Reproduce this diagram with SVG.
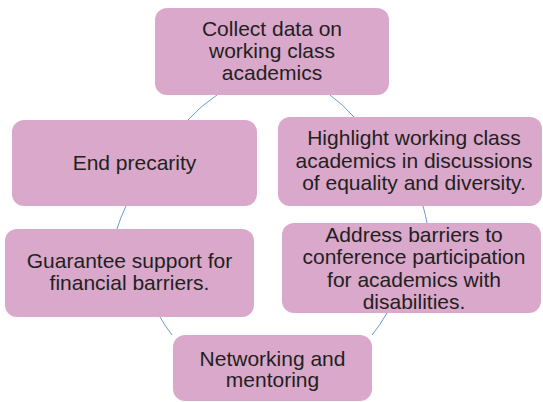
<svg xmlns="http://www.w3.org/2000/svg" width="543" height="402" viewBox="0 0 543 402">
<style>
.box{fill:#d9a8cb;stroke:none}
.t{font-family:"Liberation Sans",Arial,sans-serif;font-size:21px;fill:#231f20;text-anchor:middle}
.c{fill:none;stroke:#6c97d4;stroke-width:1}
</style>
<rect width="543" height="402" fill="#ffffff"/>
<g id="connectors">
<path class="c" d="M330 95 A150 150 0 0 1 354 117"/>
<path class="c" d="M423 206 A150 150 0 0 1 427 223"/>
<path class="c" d="M387 313 A150 150 0 0 1 372 335"/>
<path class="c" d="M172 335 A150 150 0 0 1 160 317"/>
<path class="c" d="M117 229 A150 150 0 0 1 126 206"/>
<path class="c" d="M188 120 A150 150 0 0 1 217 95"/>
</g>
<g id="n1">
<rect class="box" x="155" y="8" width="234" height="87" rx="12"/>
<text class="t" x="272" y="36">Collect data on</text>
<text class="t" x="272" y="58">working class</text>
<text class="t" x="272" y="80">academics</text>
</g>
<g id="n2">
<rect class="box" x="278" y="117" width="264" height="89" rx="12"/>
<text class="t" x="414" y="145">Highlight working class</text>
<text class="t" x="414" y="167.5">academics in discussions</text>
<text class="t" x="414" y="190">of equality and diversity.</text>
</g>
<g id="n3">
<rect class="box" x="282" y="223" width="259" height="90" rx="12"/>
<text class="t" x="414" y="241.5">Address barriers to</text>
<text class="t" x="414" y="264">conference participation</text>
<text class="t" x="414" y="286.5">for academics with</text>
<text class="t" x="414" y="308.5">disabilities.</text>
</g>
<g id="n4">
<rect class="box" x="173" y="335" width="199" height="66" rx="12"/>
<text class="t" x="272.5" y="366">Networking and</text>
<text class="t" x="272.5" y="387">mentoring</text>
</g>
<g id="n5">
<rect class="box" x="5" y="229" width="249" height="88" rx="12"/>
<text class="t" x="129.5" y="268">Guarantee support for</text>
<text class="t" x="129.5" y="290">financial barriers.</text>
</g>
<g id="n6">
<rect class="box" x="12" y="120" width="245" height="86" rx="12"/>
<text class="t" x="134.5" y="170">End precarity</text>
</g>
</svg>
